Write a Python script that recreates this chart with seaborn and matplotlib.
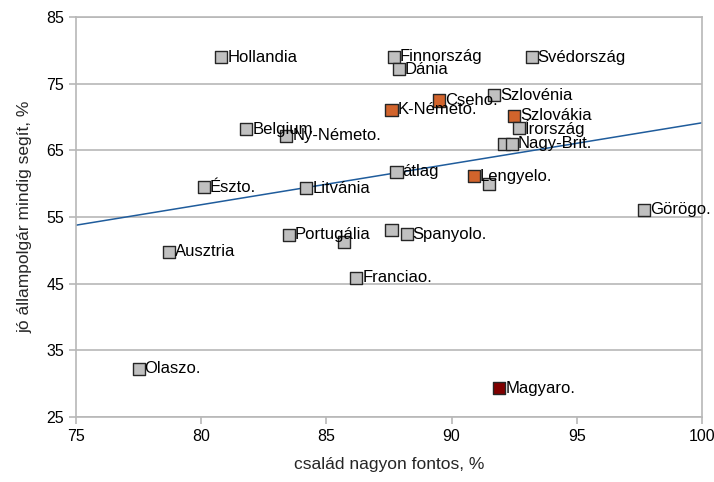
import matplotlib
matplotlib.use("Agg")
import matplotlib.pyplot as plt
import seaborn as sns
import numpy as np
import pandas as pd

countries = ["Hollandia", "Finnország", "Dánia", "Svédország", "Cseho.", "K-Németo.",
             "Szlovénia", "Szlovákia", "Írország", "", "Nagy-Brit.", "Belgium",
             "Ny-Németo.", "Észto.", "Litvánia", "átlag", "Portugália", "",
             "", "Spanyolo.", "Lengyelo.", "", "Franciao.", "Ausztria", "Olaszo.",
             "Görögo.", "Magyaro."]
family_important = [80.8, 87.7, 87.9, 93.2, 89.5, 87.6,
                    91.7, 92.5, 92.7, 92.1, 92.4, 81.8,
                    83.4, 80.1, 84.2, 87.8, 83.5, 85.7,
                    87.6, 88.2, 90.9, 91.5, 86.2, 78.7, 77.5,
                    97.7, 91.9]
good_citizen = [79.0, 79.1, 77.2, 79.0, 72.5, 71.1,
                73.3, 70.2, 68.3, 66.0, 66.0, 68.2,
                67.2, 59.5, 59.3, 61.8, 52.3, 51.2,
                53.1, 52.4, 61.1, 59.9, 45.9, 49.8, 32.2,
                56.1, 29.3]
group = ["g", "g", "g", "g", "o", "o",
         "g", "o", "g", "g", "g", "g",
         "g", "g", "g", "a", "g", "g",
         "g", "g", "o", "g", "g", "g", "g",
         "g", "h"]

df = pd.DataFrame({"country": countries, "x": family_important,
                   "y": good_citizen, "group": group})

sns.set_style("white")
plt.rcParams["font.family"] = ["Liberation Sans", "DejaVu Sans"]

fig = plt.figure(figsize=(7.14, 4.82), dpi=100)
ax = fig.add_axes([76 / 714, 1 - 416.7 / 482, (702 - 76) / 714, (416.7 - 17.3) / 482])
ax.set_xlim(75, 100)
ax.set_ylim(25, 85)

grid_c = "#b8b8b8"
ax.set_yticks([25, 35, 45, 55, 65, 75, 85])
ax.set_xticks([75, 80, 85, 90, 95, 100])
ax.grid(axis="y", color=grid_c, linewidth=1.2)
ax.set_axisbelow(True)
for s in ax.spines.values():
    s.set_color(grid_c)
    s.set_linewidth(1.2)
ax.tick_params(axis="both", colors=grid_c, labelcolor="black", labelsize=11.5,
               length=5, width=1.2, direction="out", left=True, bottom=True)
ax.get_xticklabels()[-1].set_horizontalalignment("right")
xl = ax.get_xticklabels()
xl[-1].set_ha("right")
xl[-1].set_x(100)

# trend line over countries (excluding the average)
fitdf = df[df["group"] != "a"]
sns.regplot(data=fitdf, x="x", y="y", ax=ax, scatter=False, ci=None,
            truncate=False, line_kws={"color": "#1f5c9c", "linewidth": 1.1})

palette = {"g": "#c0c0c0", "a": "#c0c0c0", "o": "#d2642c", "h": "#800000"}
sns.scatterplot(data=df, x="x", y="y", hue="group", palette=palette, marker="s",
                s=75, edgecolor="#262626", linewidth=1.0, legend=False, ax=ax,
                zorder=3)

for _, r in df.iterrows():
    if r["country"]:
        ax.annotate(r["country"], (r["x"], r["y"]), xytext=(4.3, 0),
                    textcoords="offset points", va="center", ha="left",
                    fontsize=12, color="black", zorder=4)

ax.set_xlim(75, 100)
ax.set_ylim(25, 85)
ax.set_xlabel("család nagyon fontos, %", fontsize=12.5, labelpad=10)
ax.set_ylabel("jó állampolgár mindig segít, %", fontsize=12.5, labelpad=10)

fig.canvas.draw()
for lab in ax.get_xticklabels():
    if lab.get_text() == "100":
        lab.set_ha("center")
        lab.set_x(99.75)

fig.savefig("out.png", dpi=100)
